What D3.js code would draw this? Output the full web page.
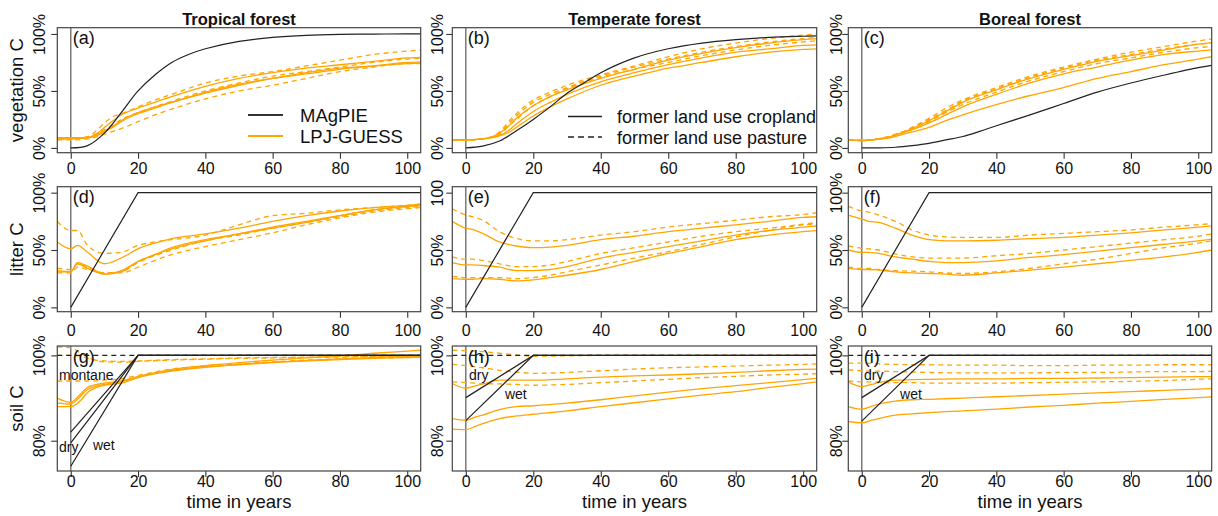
<!DOCTYPE html>
<html>
<head>
<meta charset="utf-8">
<script src="https://cdn.jsdelivr.net/npm/d3@7"></script>
<style>
  body { margin: 0; background: #fff; }
  svg { display: block; }
  text { font-family: "Liberation Sans", Arial, Helvetica, sans-serif; fill: #111; }
</style>
</head>
<body>
<svg id="chart" width="1218" height="516"></svg>
<script>
// ---------- time axes ----------
const yearsVeg    = [-4, 0, 5, 8, 10, 13, 15, 20, 25, 30, 40, 50, 60, 70, 80, 90, 100, 104];
const yearsLitter = [-4, 0, 2, 5, 10, 15, 20, 25, 30, 40, 50, 60, 70, 80, 90, 100, 104];
const yearsSoil   = [-4, 0, 3, 5, 10, 15, 20, 30, 40, 50, 60, 70, 80, 90, 100, 104];

// ---------- MAgPIE regrowth (% of potential) ----------
const magpieVegYears     = [0, 5, 10, 15, 20, 25, 30, 35, 40, 50, 60, 70, 80, 90, 100, 104];
const magpieVegTropical  = [0, 2, 13, 31, 50, 64, 75, 82, 87, 93.5, 97, 98.8, 99.6, 99.9, 100, 100];
const magpieVegTemperate = [0, 1.5, 6, 15, 25, 36, 48, 57, 66, 79, 87, 92, 95, 97, 98, 98.3];
const magpieVegBoreal    = [0, 0.1, 0.6, 2, 4, 7, 10, 14.5, 19.5, 29, 39, 49, 57, 64, 70.5, 72.5];

const magpieLitterYears = [0, 20, 104];
const magpieLitter      = [0, 100, 100];

const magpieSoilYears     = [0, 20, 104];
const magpieSoilTropical  = [[82, 100, 100], [79.5, 100, 100], [74, 100, 100]];
const magpieSoilTemperate = [[90.1, 100, 100], [84.7, 100, 100]];
const magpieSoilBoreal    = [[90.1, 100, 100], [84.6, 100, 100]];
const magpieSoilPastureYears = [-4, 104];
const magpieSoilPasture      = [100, 100];

// ---------- LPJ-GUESS vegetation C ----------
const vegTropicalCrop = [
  [8, 8, 9, 13, 18, 25, 29, 35, 40, 45, 54, 61, 66, 70, 73, 76, 79, 79.5],
  [9, 9, 9, 12, 15, 20, 24, 31, 36, 40, 49, 56, 61, 66, 70, 72, 74, 74.5],
  [8, 8, 9, 11, 14, 19, 23, 30, 35, 40, 48, 55, 61, 65, 69, 72, 75, 75.5]
];
const vegTropicalPasture = [
  [8, 8, 10, 16, 22, 28, 30, 36, 42, 47, 57, 63, 67, 72, 77, 82, 85, 86],
  [9, 8.5, 9.5, 13, 16, 21, 25, 31, 36, 41, 50, 57, 63, 67, 71, 75, 78, 78.5],
  [7, 7, 8, 10, 12, 15, 17, 23, 29, 34, 43, 50, 55, 61, 67, 71, 74, 74]
];
const vegTemperateCrop = [
  [7, 7, 8, 10, 13, 20, 26, 37, 45, 51, 61, 69, 77, 83, 88, 92, 95, 96],
  [7, 7, 8, 9.5, 11, 16, 21, 32, 40, 47, 58, 66, 73, 79, 84, 87, 90, 90.5],
  [7, 7, 8, 9, 10.5, 14, 18, 28, 36, 43, 55, 63, 70, 75, 80, 84, 86.5, 87]
];
const vegTemperatePasture = [
  [7, 7, 8, 10, 14, 24, 30, 42, 49, 55, 64, 72, 80, 87, 92, 96, 99, 100],
  [7, 7, 8, 10, 13, 22, 28, 40, 47, 53, 63, 71, 78, 84, 89, 93, 96, 97],
  [7, 7, 8, 10, 12, 20, 25, 37, 45, 52, 62, 69, 75, 81, 86, 90, 93, 94]
];
const vegBorealCrop = [
  [7, 6.5, 8, 9.5, 11.5, 14.5, 17, 24, 32, 40, 51, 61, 69, 76, 81, 86, 91, 92.5],
  [7, 6.5, 8, 9.5, 11, 14, 16, 22, 29, 36, 47, 57, 65, 71, 77, 82, 85, 86],
  [7, 6.5, 7.5, 8.5, 10, 12.5, 14, 18, 24, 29, 38, 46, 53, 61, 67, 73, 78, 80]
];
const vegBorealPasture = [
  [7, 6.5, 8, 10, 12, 15, 18, 26, 35, 42, 53, 63, 71, 78, 84, 89, 94, 95.5],
  [7, 6.5, 8, 10, 12, 15, 18, 25, 33, 41, 52, 62, 70, 77, 82, 87, 91, 92],
  [7, 6.5, 8, 9.5, 11.5, 14.5, 17, 23, 31, 38, 49, 59, 67, 74, 79, 84, 88, 89]
];

// ---------- LPJ-GUESS litter C ----------
const litterTropicalCrop = [
  [57, 51, 54, 48, 38, 43, 51, 56, 60, 64, 69, 75, 80, 84, 87, 89, 90],
  [32, 31, 39, 36, 29, 32, 40, 46, 52, 59, 64, 70, 75, 80, 85, 88, 89],
  [31, 31, 38, 34, 29, 31, 40, 46, 51, 58, 64, 69, 74, 80, 85, 88, 89]
];
const litterTropicalPasture = [
  [75, 67, 67, 54, 47, 48, 54, 57, 59, 63, 72, 80, 82, 85, 87, 89, 90],
  [34, 33, 38, 35, 30, 31, 39, 45, 50, 58, 63, 69, 74, 79, 84, 87, 88],
  [30, 30, 35, 33, 30, 30, 35, 41, 46, 53, 59, 65, 72, 78, 83, 86, 87]
];
const litterTemperateCrop = [
  [75, 69, 68, 64.5, 57, 53.5, 52, 52.5, 54, 59, 62, 66, 69, 72, 75, 78.5, 79],
  [39, 37, 37, 36.5, 35, 32, 32, 33, 35.5, 43, 48, 53, 58, 63, 67, 70, 71],
  [25, 24.5, 24.5, 25, 24.5, 23, 24, 26, 28, 33, 40, 47, 53, 59, 63, 66, 67]
];
const litterTemperatePasture = [
  [86, 80.5, 79, 76, 66, 60, 58, 58, 59, 63, 66, 70, 73, 76, 79, 81, 82.5],
  [44, 42, 42, 41, 38, 35.5, 35.5, 37, 40, 47, 52, 57, 62, 66, 69, 72.5, 74],
  [27, 26, 26, 26, 26, 25, 26, 28, 31, 37, 43, 48.5, 55, 61.5, 67, 72, 72.5]
];
const litterBorealCrop = [
  [80.5, 77, 75, 74, 69, 63, 59, 58, 58, 58.5, 60, 61, 63, 65, 67.5, 70, 71],
  [50, 48, 48, 47, 44, 42, 40, 39, 39, 40.5, 43.5, 46, 49, 52, 55, 58, 59.5],
  [34, 33, 33, 32.5, 31, 30, 29.5, 29, 28, 30, 32.5, 35, 38, 41, 44, 48, 50]
];
const litterBorealPasture = [
  [88, 84, 83, 80.5, 75, 67.5, 63, 61.5, 61, 61, 63, 64.5, 66, 67.5, 70, 72, 73],
  [53.5, 51.5, 51, 50, 46.5, 44, 43, 43, 43, 45, 47, 50, 53, 56, 59, 62, 64],
  [35, 34, 34, 33, 32, 31.5, 31, 30, 29.5, 31, 34, 38, 42, 47, 52, 56, 58]
];

// ---------- LPJ-GUESS soil C ----------
const soilTropicalCrop = [
  [90, 89, 91, 92.5, 93.5, 94, 95, 96.7, 97.6, 98.3, 98.9, 99.4, 99.9, 100.5, 101, 101.2],
  [88.8, 88.6, 90.5, 92, 93.2, 93.8, 95, 96.5, 97.3, 97.9, 98.4, 98.8, 99.2, 99.5, 99.8, 99.9],
  [88, 88, 89.5, 91.3, 93, 93.5, 94.8, 96.3, 97.2, 97.8, 98.3, 98.7, 99, 99.3, 99.5, 99.6]
];
const soilTropicalPasture = [
  [102, 101.8, 100.5, 99.6, 98.5, 98.4, 98.6, 98.9, 99.1, 99.3, 99.4, 99.5, 99.6, 99.7, 99.7, 99.7],
  [94, 94, 94, 94, 94.2, 94.5, 95.3, 96.8, 97.5, 98, 98.5, 98.9, 99.2, 99.4, 99.5, 99.6],
  [100, 100, 99.8, 99.3, 98.7, 98.6, 98.7, 99, 99.2, 99.4, 99.5, 99.6, 99.7, 99.8, 99.8, 99.8]
];
const soilTemperateCrop = [
  [93.4, 92.3, 92.9, 93.3, 94.2, 94.2, 94.2, 94.5, 94.9, 95.2, 95.4, 95.7, 96, 96.4, 96.7, 96.8],
  [85.2, 84.8, 85.6, 86, 87.3, 88, 88.2, 88.8, 89.6, 90.5, 91.4, 92.2, 92.9, 93.6, 94.3, 94.6],
  [82.7, 82.6, 83.4, 84, 85.2, 85.8, 86.2, 87, 88, 88.9, 89.8, 90.7, 91.5, 92.5, 93.4, 93.8]
];
const soilTemperatePasture = [
  [101.2, 101.1, 101, 100.9, 100.5, 100.1, 99.8, 99.9, 100, 100, 100, 100, 100, 100, 100, 100],
  [97.9, 97.6, 97.3, 97.1, 96.5, 96.1, 95.8, 96, 96.4, 96.8, 97.1, 97.3, 97.5, 97.7, 97.9, 98],
  [93.8, 93.6, 93.5, 93.4, 93.3, 93.2, 93, 93.2, 93.6, 94, 94.4, 94.8, 95.1, 95.4, 95.6, 95.7]
];
const soilBorealCrop = [
  [93.8, 92.7, 93.2, 93.6, 94.2, 94.3, 94.4, 94.5, 94.5, 94.6, 94.6, 94.7, 94.8, 94.9, 95, 95],
  [88, 87.4, 88.1, 88.6, 89.3, 89.6, 89.7, 90, 90.3, 90.6, 90.9, 91.2, 91.5, 91.8, 92.1, 92.2],
  [84.5, 84.2, 84.8, 85.2, 86, 86.3, 86.6, 87, 87.4, 87.9, 88.3, 88.8, 89.2, 89.7, 90.1, 90.3]
];
const soilBorealPasture = [
  [98.2, 98.2, 98.1, 98, 97.9, 97.8, 97.8, 97.7, 97.7, 97.6, 97.6, 97.7, 97.7, 97.8, 97.8, 97.8],
  [96.6, 96.4, 96.3, 96.3, 96.2, 96.1, 96, 95.9, 95.9, 95.9, 96, 96, 96.1, 96.2, 96.2, 96.3],
  [94, 93.8, 93.8, 93.7, 93.6, 93.6, 93.5, 93.5, 93.5, 93.6, 93.7, 93.8, 93.9, 94.1, 94.4, 94.5]
];

// ---------- labels and ticks ----------
const columnTitles = ["Tropical forest", "Temperate forest", "Boreal forest"];
const rowTitles = ["vegetation C", "litter C", "soil C"];
const xTicks = [0, 20, 40, 60, 80, 100];
const yTicksShare = [0, 50, 100];
const yTicksSoil = [80, 100];
const yTickLabelsShare = ["0%", "50%", "100%"];
const yTickLabelsLitterTemperate = ["0%", "50%", "100"];
const yTickLabelsSoil = ["80%", "100%"];
const legendModels = ["MAgPIE", "LPJ-GUESS"];
const legendLandUse = ["former land use cropland", "former land use pasture"];

// ---------- layout ----------
const ORANGE = "#FFA500";
const colX = [[57.3, 420.7], [452.3, 816.7], [848.3, 1211.7]];
const rowY = [[27.7, 152.7], [186.7, 311.7], [346, 471]];
const yDomains = [[-4.2, 105.5], [-3.8, 105.2], [72.9, 102.2]];
const xTickLabelBaseline = [21.3, 24.4, 15.6];
const yTickLabelOffset = [12.6, 9.4, 6.8];

const svg = d3.select("#chart");
const defs = svg.append("defs");

const series = (xs, vs) => xs.map((t, i) => ({ t, v: vs[i] }));

const panels = [
  { col: 0, row: 0, tag: "(a)", years: yearsVeg, crop: vegTropicalCrop, pasture: vegTropicalPasture,
    mYears: magpieVegYears, mCrop: [magpieVegTropical], yTicks: yTicksShare, yLabels: yTickLabelsShare, smoothM: true },
  { col: 1, row: 0, tag: "(b)", years: yearsVeg, crop: vegTemperateCrop, pasture: vegTemperatePasture,
    mYears: magpieVegYears, mCrop: [magpieVegTemperate], yTicks: yTicksShare, yLabels: yTickLabelsShare, smoothM: true },
  { col: 2, row: 0, tag: "(c)", years: yearsVeg, crop: vegBorealCrop, pasture: vegBorealPasture,
    mYears: magpieVegYears, mCrop: [magpieVegBoreal], yTicks: yTicksShare, yLabels: yTickLabelsShare, smoothM: true },
  { col: 0, row: 1, tag: "(d)", years: yearsLitter, crop: litterTropicalCrop, pasture: litterTropicalPasture,
    mYears: magpieLitterYears, mCrop: [magpieLitter], yTicks: yTicksShare, yLabels: yTickLabelsShare },
  { col: 1, row: 1, tag: "(e)", years: yearsLitter, crop: litterTemperateCrop, pasture: litterTemperatePasture,
    mYears: magpieLitterYears, mCrop: [magpieLitter], yTicks: yTicksShare, yLabels: yTickLabelsLitterTemperate },
  { col: 2, row: 1, tag: "(f)", years: yearsLitter, crop: litterBorealCrop, pasture: litterBorealPasture,
    mYears: magpieLitterYears, mCrop: [magpieLitter], yTicks: yTicksShare, yLabels: yTickLabelsShare },
  { col: 0, row: 2, tag: "(g)", years: yearsSoil, crop: soilTropicalCrop, pasture: soilTropicalPasture,
    mYears: magpieSoilYears, mCrop: magpieSoilTropical, mPasture: true, yTicks: yTicksSoil, yLabels: yTickLabelsSoil,
    notes: [["montane", -3.5, 94.2], ["dry", -3.5, 77.3], ["wet", 6.6, 77.8]] },
  { col: 1, row: 2, tag: "(h)", years: yearsSoil, crop: soilTemperateCrop, pasture: soilTemperatePasture,
    mYears: magpieSoilYears, mCrop: magpieSoilTemperate, mPasture: true, yTicks: yTicksSoil, yLabels: yTickLabelsSoil,
    notes: [["dry", 0.95, 94.2], ["wet", 11.6, 89.8]] },
  { col: 2, row: 2, tag: "(i)", years: yearsSoil, crop: soilBorealCrop, pasture: soilBorealPasture,
    mYears: magpieSoilYears, mCrop: magpieSoilBoreal, mPasture: true, yTicks: yTicksSoil, yLabels: yTickLabelsSoil,
    notes: [["dry", 0.67, 94.2], ["wet", 11.4, 89.8]] }
];

panels.forEach((p, idx) => {
  const [x0, x1] = colX[p.col];
  const [y0, y1] = rowY[p.row];
  const x = d3.scaleLinear().domain([-4, 104]).range([x0, x1]);
  const y = d3.scaleLinear().domain(yDomains[p.row]).range([y1, y0]);

  const clipId = "clip" + idx;
  defs.append("clipPath").attr("id", clipId)
    .append("rect").attr("x", x0).attr("y", y0).attr("width", x1 - x0).attr("height", y1 - y0);

  const g = svg.append("g");
  const plot = g.append("g").attr("clip-path", `url(#${clipId})`);

  // start of regrowth
  plot.append("line")
    .attr("x1", x(0)).attr("x2", x(0)).attr("y1", y0).attr("y2", y1)
    .attr("stroke", "#7a7a7a").attr("stroke-width", 1.5);

  const smooth = d3.line().x(d => x(d.t)).y(d => y(d.v)).curve(d3.curveMonotoneX);
  const straight = d3.line().x(d => x(d.t)).y(d => y(d.v));

  // LPJ-GUESS runs
  p.pasture.forEach(vs => {
    plot.append("path").datum(series(p.years, vs))
      .attr("d", smooth).attr("fill", "none")
      .attr("stroke", ORANGE).attr("stroke-width", 1.3).attr("stroke-dasharray", "5,4");
  });
  p.crop.forEach(vs => {
    plot.append("path").datum(series(p.years, vs))
      .attr("d", smooth).attr("fill", "none")
      .attr("stroke", ORANGE).attr("stroke-width", 1.3);
  });

  // MAgPIE assumptions
  if (p.mPasture) {
    plot.append("path").datum(series(magpieSoilPastureYears, magpieSoilPasture))
      .attr("d", straight).attr("fill", "none")
      .attr("stroke", "#222").attr("stroke-width", 1.2).attr("stroke-dasharray", "5,4");
  }
  p.mCrop.forEach(vs => {
    plot.append("path").datum(series(p.mYears, vs))
      .attr("d", p.smoothM ? d3.line().x(d => x(d.t)).y(d => y(d.v)).curve(d3.curveCatmullRom.alpha(0.5)) : straight)
      .attr("fill", "none")
      .attr("stroke", "#222").attr("stroke-width", 1.2);
  });

  // x axis
  const xa = g.append("g").attr("transform", `translate(0,${y1})`)
    .call(d3.axisBottom(x).tickValues(xTicks).tickSize(6).tickFormat(d3.format("d")));
  xa.select(".domain").remove();
  xa.selectAll(".tick line").attr("stroke", "#333").attr("stroke-width", 1.1);
  xa.selectAll(".tick text").attr("y", xTickLabelBaseline[p.row]).attr("dy", null)
    .style("font-size", "16px").attr("fill", "#111");

  // y axis with labels running along the axis
  const ya = g.append("g").attr("transform", `translate(${x0},0)`)
    .call(d3.axisLeft(y).tickValues(p.yTicks).tickSize(6).tickFormat((d, i) => p.yLabels[i]));
  ya.select(".domain").remove();
  ya.selectAll(".tick line").attr("stroke", "#333").attr("stroke-width", 1.1);
  ya.selectAll(".tick text")
    .attr("x", null).attr("dy", null).attr("text-anchor", "middle")
    .attr("transform", `translate(${-yTickLabelOffset[p.col]},0) rotate(-90)`)
    .style("font-size", "16px").attr("fill", "#111");

  // frame
  g.append("rect").attr("x", x0).attr("y", y0).attr("width", x1 - x0).attr("height", y1 - y0)
    .attr("fill", "none").attr("stroke", "#444").attr("stroke-width", 1.2);

  // panel tag
  g.append("text").attr("x", x0 + 15.5).attr("y", y0 + 16.6)
    .style("font-size", "18px").text(p.tag);

  // soil annotations
  (p.notes || []).forEach(([label, t, v]) => {
    g.append("text").attr("x", x(t)).attr("y", y(v))
      .style("font-size", "14px").text(label);
  });
});

// column titles and x-axis titles
columnTitles.forEach((title, c) => {
  const cx = (colX[c][0] + colX[c][1]) / 2;
  svg.append("text").attr("x", cx).attr("y", 25).attr("text-anchor", "middle")
    .style("font-size", "16.5px").style("font-weight", "bold").text(title);
  svg.append("text").attr("x", cx).attr("y", 508).attr("text-anchor", "middle")
    .style("font-size", "18.5px").text("time in years");
});

// row titles
rowTitles.forEach((title, r) => {
  const cy = (rowY[r][0] + rowY[r][1]) / 2;
  svg.append("text").attr("transform", `translate(23,${cy}) rotate(-90)`)
    .attr("text-anchor", "middle").style("font-size", "18.5px").text(title);
});

// legend: models
const legA = svg.append("g");
[["#333", 115], [ORANGE, 136]].forEach(([color, ly], i) => {
  legA.append("line").attr("x1", 248).attr("x2", 283).attr("y1", ly).attr("y2", ly)
    .attr("stroke", color).attr("stroke-width", 2);
  legA.append("text").attr("x", 300).attr("y", ly + 6.8).style("font-size", "18.5px").text(legendModels[i]);
});

// legend: former land use
const legB = svg.append("g");
[[null, 116.5], ["6,4", 137]].forEach(([dash, ly], i) => {
  legB.append("line").attr("x1", 568).attr("x2", 602).attr("y1", ly).attr("y2", ly)
    .attr("stroke", "#222").attr("stroke-width", 1.6).attr("stroke-dasharray", dash);
  legB.append("text").attr("x", 617).attr("y", ly + 6.5).style("font-size", "18px").text(legendLandUse[i]);
});
</script>
</body>
</html>
